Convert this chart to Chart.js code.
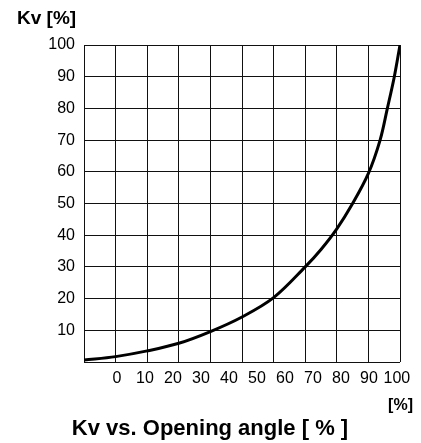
<!DOCTYPE html>
<html>
<head>
<meta charset="utf-8">
<script src="https://cdn.jsdelivr.net/npm/chart.js@4/dist/chart.umd.min.js"></script>
<style>
    html, body { margin: 0; padding: 0; background: #fff; }
    #wrap { width: 421px; height: 443px; }
</style>
</head>
<body>
<div id="wrap"><canvas id="kvChart" width="421" height="443"></canvas></div>
<script>
// curve (x = grid position 0-100, y = Kv %)
const openingAngle = [0, 10, 20, 30, 40, 50, 60, 70, 75, 80, 85, 90, 93.7, 96, 98.2, 100];
const kvValues = [0.6, 1.7, 3.5, 5.9, 9.6, 14.2, 20.3, 30, 35.5, 42, 50, 59.5, 70, 80, 90, 100];

// labels printed under the grid (they do not sit on the grid lines)
const angleLabels = [0, 10, 20, 30, 40, 50, 60, 70, 80, 90, 100];

const yUnit = 'Kv [%]';
const xUnit = '[%]';
const chartTitle = 'Kv vs. Opening angle [ % ]';

const FONT = "'Liberation Sans', Arial, Helvetica, sans-serif";
const gridColor = '#111';

const textLabels = {
    id: 'textLabels',
    afterDraw(chart) {
        const ctx = chart.ctx;
        ctx.save();
        ctx.fillStyle = '#000';
        ctx.textBaseline = 'alphabetic';

        ctx.font = 'bold 19px ' + FONT;
        ctx.textAlign = 'left';
        ctx.fillText(yUnit, 17, 24);

        ctx.font = 'bold 16px ' + FONT;
        ctx.textAlign = 'right';
        ctx.fillText(xUnit, 413, 410);

        ctx.font = 'bold 22px ' + FONT;
        ctx.textAlign = 'center';
        ctx.fillText(chartTitle, 210, 435);
        ctx.restore();
    }
};

function initChart() {
    const ctx = document.getElementById('kvChart').getContext('2d');
    new Chart(ctx, {
        type: 'scatter',
        data: {
            datasets: [{
                label: 'Kv',
                data: openingAngle.map((a, i) => ({ x: a, y: kvValues[i] })),
                showLine: true,
                borderColor: '#000',
                borderWidth: 3,
                pointRadius: 0,
                fill: false,
                tension: 0.35
            }]
        },
        options: {
            responsive: false,
            animation: false,
            layout: {
                padding: { top: 45, right: 21, bottom: 51, left: 0 }
            },
            plugins: {
                legend: { display: false },
                tooltip: { enabled: false }
            },
            scales: {
                x: {
                    type: 'linear',
                    min: 0,
                    max: 100,
                    border: { display: false },
                    grid: { color: gridColor, lineWidth: 1, drawTicks: false },
                    ticks: { display: false, stepSize: 10 },
                    afterFit: scale => { scale.height = 0; }
                },
                xLabels: {
                    type: 'linear',
                    position: 'bottom',
                    min: -11.8,
                    max: 101.1,
                    border: { display: false },
                    grid: { display: false, drawTicks: false },
                    afterBuildTicks: axis => {
                        axis.ticks = angleLabels.map(v => ({ value: v }));
                    },
                    ticks: {
                        autoSkip: false,
                        maxRotation: 0,
                        padding: 7,
                        color: '#000',
                        font: { family: FONT, size: 16 }
                    },
                    afterFit: scale => { scale.height = 30; }
                },
                y: {
                    min: 0,
                    max: 100,
                    border: { display: false },
                    grid: { color: gridColor, lineWidth: 1, drawTicks: false },
                    ticks: {
                        stepSize: 10,
                        padding: 9,
                        color: '#000',
                        font: { family: FONT, size: 16 },
                        callback: v => v === 0 ? '' : v
                    },
                    afterFit: scale => { scale.width = 84; }
                }
            }
        },
        plugins: [textLabels]
    });
}

document.addEventListener('DOMContentLoaded', initChart);
</script>
</body>
</html>
